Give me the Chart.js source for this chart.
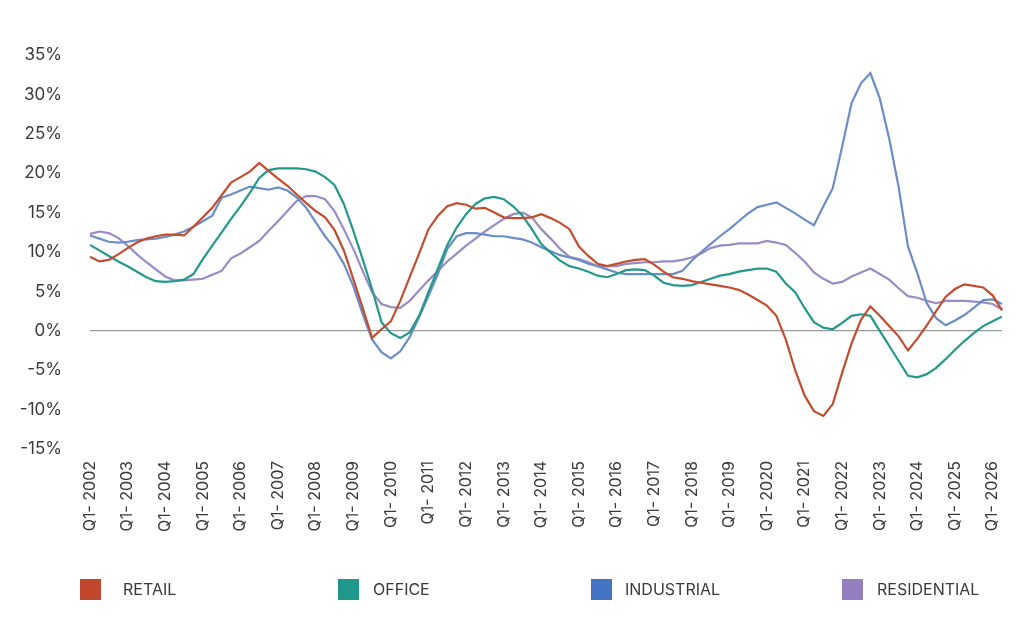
<!DOCTYPE html>
<html>
<head>
<meta charset="utf-8">
<script src="https://cdn.jsdelivr.net/npm/chart.js@4.4.1/dist/chart.umd.min.js"></script>
<style>
  html, body { margin: 0; padding: 0; background: #fff; }
  #wrap { position: relative; width: 1024px; height: 639px; }
  #legend { position: absolute; left: 0; top: 579px; width: 1024px; height: 22px;
            font-family: Inter, "Open Sans", sans-serif; font-size: 16px; color: #3a3a3a; }
  .box { position: absolute; top: 0; width: 21px; height: 21px; }
  .txt { position: absolute; top: 0; height: 21px; line-height: 21px; }
</style>
</head>
<body>
<div id="wrap">
  <canvas id="myChart" width="1024" height="639"></canvas>
  <div id="legend"></div>
</div>
<script>
let years = [2002, 2003, 2004, 2005, 2006, 2007, 2008, 2009, 2010, 2011, 2012, 2013,
             2014, 2015, 2016, 2017, 2018, 2019, 2020, 2021, 2022, 2023, 2024, 2025, 2026];
let quarters = ["Q1", "Q2", "Q3", "Q4"];

let retail = [9.4, 8.8, 9.0, 9.7, 10.5, 11.2, 11.7, 12.0, 12.2, 12.2, 12.1, 13.2, 14.4, 15.6, 17.2, 18.8,
    19.5, 20.2, 21.3, 20.3, 19.3, 18.4, 17.3, 16.2, 15.2, 14.4, 12.8, 10.2, 6.6, 2.9, -0.9, 0.2,
    1.2, 3.8, 6.8, 9.8, 12.9, 14.6, 15.8, 16.2, 16.0, 15.5, 15.6, 15.0, 14.4, 14.3, 14.3, 14.4,
    14.8, 14.3, 13.7, 12.9, 10.7, 9.5, 8.5, 8.2, 8.5, 8.8, 9.0, 9.1, 8.4, 7.5, 6.8, 6.6,
    6.3, 6.1, 5.9, 5.7, 5.5, 5.2, 4.6, 3.9, 3.2, 1.9, -1.1, -5.0, -8.2, -10.2, -10.8, -9.3,
    -5.3, -1.6, 1.4, 3.1, 1.9, 0.6, -0.7, -2.5, -1.0, 0.7, 2.5, 4.3, 5.3, 5.9, 5.7, 5.5,
    4.5, 2.6];
let office = [10.9, 10.2, 9.5, 8.8, 8.2, 7.5, 6.8, 6.3, 6.2, 6.3, 6.5, 7.2, 9.1, 10.8, 12.5, 14.2,
    15.8, 17.5, 19.4, 20.4, 20.6, 20.6, 20.6, 20.5, 20.2, 19.5, 18.5, 16.1, 12.7, 9.1, 5.3, 1.1,
    -0.3, -0.9, -0.2, 1.9, 4.9, 7.9, 10.9, 13.1, 14.8, 16.1, 16.8, 17.0, 16.7, 15.8, 14.6, 12.9,
    11.0, 9.9, 8.9, 8.2, 7.9, 7.5, 7.0, 6.8, 7.2, 7.7, 7.8, 7.7, 7.0, 6.1, 5.8, 5.7,
    5.8, 6.2, 6.6, 7.0, 7.2, 7.5, 7.7, 7.9, 7.9, 7.5, 6.0, 4.9, 2.9, 1.1, 0.4, 0.2,
    1.0, 1.9, 2.1, 1.9, 0.0, -1.9, -3.8, -5.7, -5.9, -5.5, -4.7, -3.6, -2.4, -1.3, -0.3, 0.6,
    1.2, 1.8];
let industrial = [12.1, 11.7, 11.3, 11.2, 11.3, 11.5, 11.6, 11.7, 11.9, 12.2, 12.6, 13.2, 13.9, 14.6, 16.9, 17.3,
    17.8, 18.3, 18.1, 17.9, 18.2, 17.8, 16.9, 15.6, 13.8, 12.0, 10.5, 8.5, 5.7, 2.1, -1.1, -2.7,
    -3.5, -2.6, -0.8, 1.7, 4.4, 7.2, 10.4, 12.0, 12.4, 12.4, 12.2, 12.0, 12.0, 11.8, 11.6, 11.2,
    10.6, 10.1, 9.6, 9.3, 9.0, 8.5, 8.2, 7.8, 7.4, 7.2, 7.2, 7.2, 7.2, 7.2, 7.2, 7.6,
    8.9, 10.0, 11.0, 12.0, 12.9, 13.9, 14.9, 15.7, 16.0, 16.3, 15.6, 14.9, 14.1, 13.4, 15.8, 18.1,
    23.4, 28.9, 31.4, 32.7, 29.5, 24.4, 18.3, 10.7, 7.3, 3.5, 1.6, 0.7, 1.3, 2.0, 2.9, 3.9,
    4.0, 3.4];
let residential = [12.3, 12.6, 12.4, 11.8, 10.8, 9.7, 8.7, 7.8, 6.9, 6.4, 6.4, 6.5, 6.6, 7.1, 7.6, 9.2,
    9.8, 10.6, 11.4, 12.7, 13.9, 15.2, 16.5, 17.1, 17.1, 16.7, 15.2, 12.9, 10.4, 7.6, 4.9, 3.4,
    3.0, 2.9, 3.8, 5.1, 6.4, 7.6, 8.8, 9.8, 10.8, 11.7, 12.6, 13.4, 14.2, 14.8, 15.0, 14.4,
    12.9, 11.7, 10.4, 9.4, 9.1, 8.7, 8.2, 8.2, 8.2, 8.5, 8.6, 8.7, 8.7, 8.8, 8.8, 9.0,
    9.3, 9.8, 10.5, 10.8, 10.9, 11.1, 11.1, 11.1, 11.4, 11.2, 10.9, 9.9, 8.8, 7.4, 6.6, 6.0,
    6.2, 6.9, 7.4, 7.9, 7.2, 6.5, 5.4, 4.4, 4.2, 3.8, 3.5, 3.8, 3.8, 3.8, 3.7, 3.6,
    3.4, 2.7];

let yTicks = [-15, -10, -5, 0, 5, 10, 15, 20, 25, 30, 35];

// quarter labels, Q1- 2002 ... as many as there are values
let labels = [];
years.forEach(function (y) {
    quarters.forEach(function (q) {
        if (labels.length < retail.length) labels.push(q + "- " + y);
    });
});

let series = [
    { label: "RETAIL", data: retail, line: "#c24d2e", box: "#c0472b" },
    { label: "OFFICE", data: office, line: "#23988b", box: "#1f978b" },
    { label: "INDUSTRIAL", data: industrial, line: "#6b8dc7", box: "#4472c4" },
    { label: "RESIDENTIAL", data: residential, line: "#998bc5", box: "#937fbd" }
];
let legendBox = [80, 338, 591, 842];
let legendText = [123, 373, 625, 877];

let chart = new Chart("myChart", {
    type: "line",
    data: {
        labels: labels,
        datasets: series.map(function (s) {
            return {
                label: s.label,
                data: s.data,
                borderColor: s.line,
                backgroundColor: s.box,
                borderWidth: 2.2,
                pointRadius: 0,
                tension: 0,
                fill: false
            };
        })
    },
    options: {
        responsive: false,
        animation: false,
        layout: { padding: { left: 10, right: 22, top: 55, bottom: 90 } },
        plugins: {
            legend: { display: false },
            tooltip: { enabled: false }
        },
        scales: {
            x: {
                grid: { display: false, drawTicks: false },
                border: { display: false },
                afterFit: function (s) {
                    s.height = 100;
                    s.paddingLeft = 0;
                    s.paddingRight = 0;
                },
                ticks: {
                    autoSkip: false,
                    minRotation: 90,
                    maxRotation: 90,
                    padding: 12,
                    color: "#3a3a3a",
                    font: { family: "Inter", size: 16 },
                    callback: function (v, i) { return i % 4 === 0 ? labels[i] : ""; }
                }
            },
            y: {
                min: -15,
                max: 35,
                afterFit: function (s) { s.width = 80; },
                afterBuildTicks: function (s) { s.ticks = yTicks.map(function (v) { return { value: v }; }); },
                border: { display: false },
                grid: {
                    drawTicks: false,
                    lineWidth: 1.2,
                    color: function (ctx) { return ctx.tick && ctx.tick.value === 0 ? "#9a9a9a" : "rgba(0,0,0,0)"; }
                },
                ticks: {
                    padding: 28,
                    color: "#3a3a3a",
                    font: { family: "Inter", size: 17 },
                    callback: function (v) { return v + "%"; }
                }
            }
        }
    }
});

// legend laid out on a fixed grid like the original
let legend = document.getElementById("legend");
series.forEach(function (s, i) {
    let box = document.createElement("div");
    box.className = "box";
    box.style.left = legendBox[i] + "px";
    box.style.background = s.box;
    legend.appendChild(box);
    let txt = document.createElement("div");
    txt.className = "txt";
    txt.style.left = legendText[i] + "px";
    txt.textContent = s.label;
    legend.appendChild(txt);
});
</script>
</body>
</html>
